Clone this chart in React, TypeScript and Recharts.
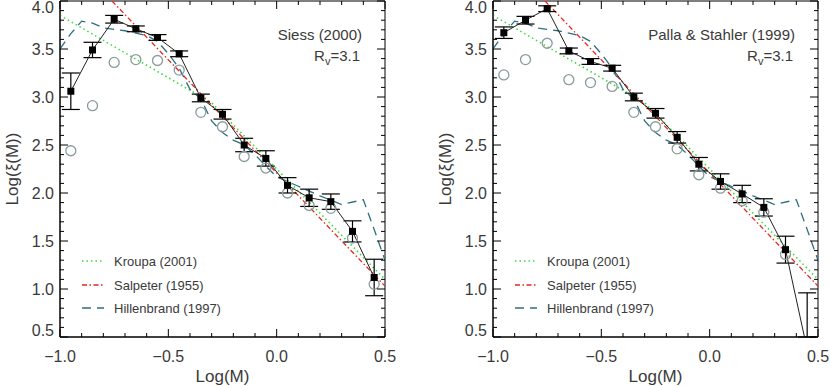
import React from "react";
import { ComposedChart, Line, Scatter, XAxis, YAxis, ErrorBar, ReferenceArea } from "recharts";

// mass bins (log M) shared by both panels
const massBins = [-0.95, -0.85, -0.75, -0.65, -0.55, -0.45, -0.35, -0.25, -0.15, -0.05, 0.05, 0.15, 0.25, 0.35, 0.45];

// Siess (2000) panel
const siessCorrected = [3.06, 3.49, 3.81, 3.71, 3.62, 3.45, 2.99, 2.82, 2.5, 2.36, 2.08, 1.95, 1.91, 1.6, 1.12];
const siessErrLow = [0.19, 0.08, 0.04, 0.03, 0.03, 0.03, 0.04, 0.05, 0.07, 0.08, 0.08, 0.09, 0.08, 0.11, 0.19];
const siessErrHigh = [0.19, 0.08, 0.04, 0.03, 0.03, 0.03, 0.04, 0.05, 0.07, 0.08, 0.08, 0.09, 0.08, 0.11, 0.19];
const siessRaw = [2.44, 2.91, 3.36, 3.39, 3.38, 3.28, 2.84, 2.69, 2.38, 2.26, 2.0, 1.87, 1.84, 1.53, 1.05];

// Palla & Stahler (1999) panel
// last bin sits below the frame; only the part of its bar above log=0.5 is visible
const pallaCorrected = [3.67, 3.8, 3.92, 3.48, 3.37, 3.3, 3.0, 2.83, 2.58, 2.3, 2.12, 1.99, 1.85, 1.41, 0.37];
const pallaErrLow = [0.06, 0.04, 0.03, 0.03, 0.03, 0.03, 0.04, 0.05, 0.06, 0.07, 0.08, 0.09, 0.09, 0.14, -0.13];
const pallaErrHigh = [0.06, 0.04, 0.03, 0.03, 0.03, 0.03, 0.04, 0.05, 0.06, 0.07, 0.08, 0.09, 0.09, 0.14, 0.59];
const pallaRaw = [3.23, 3.39, 3.56, 3.18, 3.15, 3.11, 2.84, 2.69, 2.46, 2.19, 2.05, 1.92, 1.8, 1.36, null];

// model IMFs
const kroupaX = [-1.0, -0.3, 0.5];
const kroupaY = [3.85, 2.94, 1.1];
const salpeterX = [-0.76, 0.5];
const salpeterY = [4.0, 1.03];
const hillenbrandX = [-1.0, -0.95, -0.9, -0.85, -0.8, -0.7, -0.6, -0.55, -0.5, -0.45, -0.4, -0.35, -0.3, -0.25, -0.2, -0.15, -0.1, -0.05, 0.0, 0.1, 0.2, 0.3, 0.4, 0.45, 0.5];
const hillenbrandY = [3.5, 3.66, 3.79, 3.77, 3.72, 3.69, 3.64, 3.58, 3.45, 3.3, 3.08, 2.98, 2.75, 2.63, 2.55, 2.5, 2.4, 2.28, 2.17, 2.07, 1.97, 1.88, 1.93, 1.62, 1.3];

// axis ticks
const xTicks = [-1.0, -0.9, -0.8, -0.7, -0.6, -0.5, -0.4, -0.3, -0.2, -0.1, 0.0, 0.1, 0.2, 0.3, 0.4, 0.5];
const yTicks = [0.5, 0.6, 0.7, 0.8, 0.9, 1.0, 1.1, 1.2, 1.3, 1.4, 1.5, 1.6, 1.7, 1.8, 1.9, 2.0, 2.1, 2.2, 2.3, 2.4, 2.5, 2.6, 2.7, 2.8, 2.9, 3.0, 3.1, 3.2, 3.3, 3.4, 3.5, 3.6, 3.7, 3.8, 3.9, 4.0];

const FONT = "'Liberation Sans', Arial, sans-serif";
const FRAME = "black";
const TEXT = "#3a3a3a";
const GREEN = "#3fd83f";
const RED = "#e8261e";
const TEAL = "#2d6f80";
const GREY = "#8a9c9c";

const PLOT_W = 325;
const PLOT_H = 336;

const toRows = (xs: number[], ys: (number | null)[], lo?: number[], hi?: number[]) =>
  xs
    .map((x, i) => ({ x, y: ys[i], err: lo && hi ? [lo[i], hi[i]] : [0, 0] }))
    .filter((r) => r.y !== null);

const isMajor = (v: number) => Math.abs(v * 2 - Math.round(v * 2)) < 1e-6;
const fmt = (v: number) => (v < -1e-9 ? "\u2212" : "") + Math.abs(v).toFixed(1);

// bottom axis tick, mirrored on the top edge of the frame
function BottomTick(props: any) {
  const { x, y, payload } = props;
  const len = isMajor(payload.value) ? 8 : 4;
  return (
    <g>
      <line x1={x} x2={x} y1={y} y2={y - len} stroke={FRAME} />
      <line x1={x} x2={x} y1={y - PLOT_H} y2={y - PLOT_H + len} stroke={FRAME} />
      {len === 8 && (
        <text x={x} y={y + 25} textAnchor="middle" fontSize={16} fill={TEXT} fontFamily={FONT}>
          {fmt(payload.value)}
        </text>
      )}
    </g>
  );
}

// left axis tick, mirrored on the right edge of the frame
function LeftTick(props: any) {
  const { x, y, payload } = props;
  const v = payload.value;
  const len = isMajor(v) ? 8 : 4;
  let shift = 5.5;
  if (v > 3.95) shift += 6;
  if (v < 0.55) shift -= 6.5;
  return (
    <g>
      <line x1={x} x2={x + len} y1={y} y2={y} stroke={FRAME} />
      <line x1={x + PLOT_W} x2={x + PLOT_W - len} y1={y} y2={y} stroke={FRAME} />
      {len === 8 && (
        <text x={x - 6} y={y + shift} textAnchor="end" fontSize={16} fill={TEXT} fontFamily={FONT}>
          {fmt(v)}
        </text>
      )}
    </g>
  );
}

const Circle = (props: any) => {
  const { cx, cy } = props;
  return <circle cx={cx} cy={cy} r={5} fill="none" stroke={GREY} strokeWidth={1.3} />;
};

const Square = (props: any) => {
  const { cx, cy, index } = props;
  return <rect key={`sq-${index}`} x={cx - 3.5} y={cy - 3.5} width={7} height={7} fill="#000" />;
};

type PanelProps = {
  left: number;
  yAxisWidth: number;
  rightMargin: number;
  title: string;
  corrected: number[];
  errLow: number[];
  errHigh: number[];
  raw: (number | null)[];
};

function Panel({ left, yAxisWidth, rightMargin, title, corrected, errLow, errHigh, raw }: PanelProps) {
  const W = 415;
  const H = 386;
  const plotLeft = yAxisWidth;
  const plotRight = W - rightMargin;
  const legendX = plotLeft + 22;
  const legendRows = [
    { name: "Kroupa (2001)", color: GREEN, dash: "1.5 3", y: 261 },
    { name: "Salpeter (1955)", color: RED, dash: "5 2.5 1.5 2.5", y: 285 },
    { name: "Hillenbrand (1997)", color: TEAL, dash: "9 6", y: 308 },
  ];
  const yLabelX = yAxisWidth - 48;
  return (
    <div style={{ position: "absolute", left, top: 0, width: W, height: H }}>
      <ComposedChart
        width={W}
        height={H}
        data={toRows(massBins, corrected, errLow, errHigh)}
        margin={{ top: 1, right: rightMargin, bottom: 0, left: 0 }}
      >
        <XAxis
          dataKey="x"
          type="number"
          domain={[-1, 0.5]}
          ticks={xTicks}
          interval={0}
          allowDataOverflow
          height={49}
          tickSize={0}
          tickMargin={0}
          tickLine={false}
          axisLine={{ stroke: FRAME }}
          tick={<BottomTick />}
        />
        <YAxis
          type="number"
          domain={[0.5, 4]}
          ticks={yTicks}
          interval={0}
          allowDataOverflow
          width={yAxisWidth}
          tickSize={0}
          tickMargin={0}
          tickLine={false}
          axisLine={{ stroke: FRAME }}
          tick={<LeftTick />}
        />
        <ReferenceArea x1={-1} x2={0.5} y1={0.5} y2={4} fill="none" stroke={FRAME} ifOverflow="visible" />
        <Line
          data={toRows(kroupaX, kroupaY)}
          dataKey="y"
          stroke={GREEN}
          strokeWidth={1.6}
          strokeDasharray="1.5 3"
          dot={false}
          isAnimationActive={false}
        />
        <Line
          data={toRows(salpeterX, salpeterY)}
          dataKey="y"
          stroke={RED}
          strokeWidth={1.3}
          strokeDasharray="5 2.5 1.5 2.5"
          dot={false}
          isAnimationActive={false}
        />
        <Line
          data={toRows(hillenbrandX, hillenbrandY)}
          dataKey="y"
          stroke={TEAL}
          strokeWidth={1.3}
          strokeDasharray="9 6"
          dot={false}
          isAnimationActive={false}
        />
        <Scatter data={toRows(massBins, raw)} dataKey="y" shape={<Circle />} isAnimationActive={false} />
        <Line dataKey="y" stroke="#222" strokeWidth={1} dot={Square} isAnimationActive={false}>
          <ErrorBar dataKey="err" direction="y" width={9} stroke="#000" strokeWidth={1.2} />
        </Line>
      </ComposedChart>
      <svg
        width={W}
        height={H}
        style={{ position: "absolute", left: 0, top: 0, pointerEvents: "none" }}
        fontFamily={FONT}
      >
        <text x={plotRight - 23} y={40} textAnchor="end" fontSize={15} fill={TEXT}>
          {title}
        </text>
        <text x={plotRight - 25} y={61} textAnchor="end" fontSize={15} fill={TEXT}>
          R
          <tspan fontSize={11} dy={4}>
            v
          </tspan>
          <tspan dy={-4}>=3.1</tspan>
        </text>
        {legendRows.map((r) => (
          <g key={r.name}>
            <line x1={legendX} x2={legendX + 22} y1={r.y} y2={r.y} stroke={r.color} strokeWidth={1.5} strokeDasharray={r.dash} />
            <text x={legendX + 32} y={r.y + 4.5} fontSize={13} fill={TEXT}>
              {r.name}
            </text>
          </g>
        ))}
        <text x={(plotLeft + plotRight) / 2} y={382} textAnchor="middle" fontSize={17} fill={TEXT}>
          Log(M)
        </text>
        <text
          x={yLabelX + 6}
          y={169}
          textAnchor="middle"
          fontSize={17}
          fill={TEXT}
          transform={`rotate(-90, ${yLabelX + 6}, 169)`}
        >
          Log(ξ(M))
        </text>
      </svg>
    </div>
  );
}

export default function App() {
  return (
    <div style={{ position: "absolute", left: 0, top: 0, width: 830, height: 386, background: "#fff" }}>
      <Panel
        left={0}
        yAxisWidth={60}
        rightMargin={30}
        title="Siess (2000)"
        corrected={siessCorrected}
        errLow={siessErrLow}
        errHigh={siessErrHigh}
        raw={siessRaw}
      />
      <Panel
        left={415}
        yAxisWidth={78}
        rightMargin={12}
        title="Palla & Stahler (1999)"
        corrected={pallaCorrected}
        errLow={pallaErrLow}
        errHigh={pallaErrHigh}
        raw={pallaRaw}
      />
    </div>
  );
}
